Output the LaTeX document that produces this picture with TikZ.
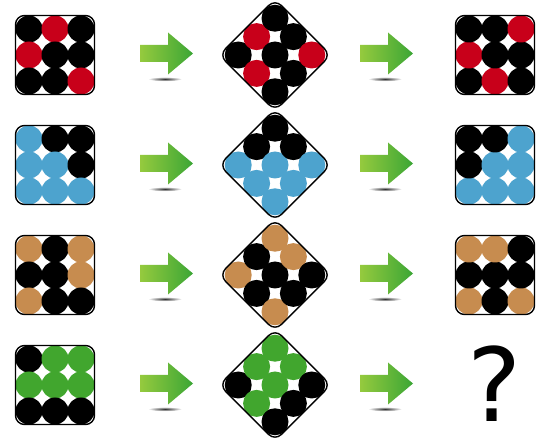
\documentclass[tikz,border=0pt]{standalone}
\usepackage{fontspec}
\newfontfamily\qfont{DejaVu Sans}
\definecolor{pzred}{HTML}{C8001A}
\definecolor{pzblue}{HTML}{4DA3CE}
\definecolor{pztan}{HTML}{C78C4F}
\definecolor{pzgreen}{HTML}{41A62E}
\definecolor{arrlight}{HTML}{95CA3E}
\definecolor{arrdark}{HTML}{3BA635}
\colorlet{blk}{black}

\newcommand{\tile}[4]{%
	\begin{scope}[shift={(#1,#2)}, rotate=#3]
		\begin{scope}
			\clip[rounded corners=9] (-39.5,-39.5) -- (39.5,-39.5) -- (39.5,39.5) -- (-39.5,39.5) -- cycle;
			\foreach \c [count=\i from 0] in {#4} {
				\pgfmathtruncatemacro{\rw}{\i/3}
				\pgfmathtruncatemacro{\cl}{mod(\i,3)}
				\fill[\c] ({(\cl-1)*26}, {(1-\rw)*26}) circle (13.5);
			}
		\end{scope}
		\draw[frame] (-39.5,-39.5) -- (39.5,-39.5) -- (39.5,39.5) -- (-39.5,39.5) -- cycle;
	\end{scope}}

\newcommand{\turn}[2]{%
	\shade[shadow] (#1+25, #2-24) ellipse (17 and 2.2);
	\shade[turnarrow] (#1, #2+10) -- (#1+28, #2+10) -- (#1+28, #2+22.5) -- (#1+53, #2+1.5)
		-- (#1+28, #2-19.5) -- (#1+28, #2-7) -- (#1, #2-7) -- cycle;}

\begin{document}
\begin{tikzpicture}[x=1pt, y=1pt,
	frame/.style={line width=1.4pt, rounded corners=9},
	turnarrow/.style={left color=arrlight, right color=arrdark},
	shadow/.style={inner color=black!80, outer color=white}]
	\useasboundingbox (0,0) rectangle (550,440);
	\fill[white] (0,0) rectangle (550,440);
	% red
	\tile{55}{385}{0}{blk,pzred,blk, pzred,blk,blk, blk,blk,pzred}
	\turn{140}{385}
	\tile{275}{385}{45}{blk,pzred,blk, pzred,blk,blk, blk,blk,pzred}
	\turn{360}{385}
	\tile{495}{385}{90}{blk,pzred,blk, pzred,blk,blk, blk,blk,pzred}
	% blue
	\tile{55}{275}{0}{pzblue,blk,blk, pzblue,pzblue,blk, pzblue,pzblue,pzblue}
	\turn{140}{275}
	\tile{275}{275}{45}{pzblue,blk,blk, pzblue,pzblue,blk, pzblue,pzblue,pzblue}
	\turn{360}{275}
	\tile{495}{275}{90}{pzblue,blk,blk, pzblue,pzblue,blk, pzblue,pzblue,pzblue}
	% tan
	\tile{55}{165}{0}{pztan,blk,pztan, blk,blk,pztan, pztan,blk,blk}
	\turn{140}{165}
	\tile{275}{165}{45}{pztan,blk,pztan, blk,blk,pztan, pztan,blk,blk}
	\turn{360}{165}
	\tile{495}{165}{90}{pztan,blk,pztan, blk,blk,pztan, pztan,blk,blk}
	% green
	\tile{55}{55}{0}{blk,pzgreen,pzgreen, pzgreen,pzgreen,pzgreen, blk,blk,blk}
	\turn{140}{55}
	\tile{275}{55}{45}{blk,pzgreen,pzgreen, pzgreen,pzgreen,pzgreen, blk,blk,blk}
	\turn{360}{55}
	\node[font=\qfont\fontsize{102}{102}\selectfont, inner sep=0pt, anchor=base] (ask) at (495,18) {?};
\end{tikzpicture}
\end{document}
